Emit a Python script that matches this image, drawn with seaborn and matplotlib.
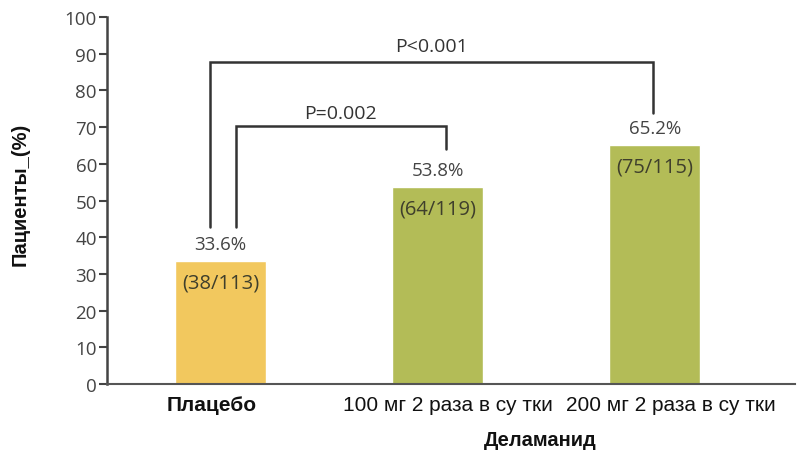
import matplotlib
matplotlib.use("Agg")
import matplotlib.pyplot as plt
import matplotlib.transforms as mtransforms
import seaborn as sns
import pandas as pd

categories = ["Плацебо", "100 мг 2 раза в су тки", "200 мг 2 раза в су тки"]
values = [33.6, 53.8, 65.2]
pct_labels = ["33.6%", "53.8%", "65.2%"]
count_labels = ["(38/113)", "(64/119)", "(75/115)"]
colors = ["#F2C85E", "#B3BC57", "#B3BC57"]
yticks = [0, 10, 20, 30, 40, 50, 60, 70, 80, 90, 100]

sns.set_style("white")
plt.rcParams['font.family'] = ['Liberation Sans', 'DejaVu Sans']

df = pd.DataFrame({"cat": categories, "val": values})

fig = plt.figure(figsize=(8.02, 4.52), dpi=100)
ax = fig.add_axes([0.133, 0.148, 0.858, 0.812])
sns.barplot(data=df, x="cat", y="val", hue="cat", palette=colors, width=0.42,
            legend=False, ax=ax, saturation=1)

ax.set_ylim(0, 100)
ax.set_xlim(-0.525, 2.645)
ax.set_yticks(yticks)
ax.set_yticklabels([str(t) for t in yticks], fontsize=13.5, color="#444444",
                   family=['Open Sans', 'DejaVu Sans'])
ax.tick_params(axis='y', direction='out', length=6, width=1.5, color="#444444", pad=1, left=True)
ax.tick_params(axis='x', length=0, pad=8)
shifts = [-9, 10, 16]
for lbl, w, dx in zip(ax.get_xticklabels(), ["bold", "normal", "normal"], shifts):
    lbl.set_fontweight(w)
    lbl.set_fontsize(15)
    lbl.set_color("#111111")
    lbl.set_transform(lbl.get_transform() + mtransforms.ScaledTranslation(dx / 100, 0, fig.dpi_scale_trans))

for s in ["top", "right"]:
    ax.spines[s].set_visible(False)
ax.spines["left"].set_color("#444444")
ax.spines["left"].set_linewidth(1.8)
ax.spines["bottom"].set_color("#555555")
ax.spines["bottom"].set_linewidth(1.5)

ax.set_ylabel("Пациенты_(%)", fontsize=14.5, fontweight="bold", color="#111111")
ax.yaxis.set_label_coords(-0.112, 0.52)
ax.set_xlabel("Деламанид", fontsize=14.5, fontweight="bold", color="#111111")
ax.xaxis.set_label_coords(0.63, -0.125)

ann_font = ['Open Sans', 'DejaVu Sans']
for i, (v, p, c) in enumerate(zip(values, pct_labels, count_labels)):
    ax.text(i, v + 4.6, p, ha="center", va="center", fontsize=13.5, color="#444444", family=ann_font)
    ax.text(i, v - 6.0, c, ha="center", va="center", fontsize=14.5, color="#3f3f2c", family=ann_font)

# significance brackets
lc = "#333333"
ax.plot([-0.05, -0.05, 1.99, 1.99], [42.8, 87.7, 87.7, 74.0], color=lc, lw=1.8, solid_joinstyle="miter")
ax.plot([0.07, 0.07, 1.037, 1.037], [42.8, 70.3, 70.3, 64.0], color=lc, lw=1.8, solid_joinstyle="miter")
ax.text(0.97, 92.0, "P<0.001", ha="center", va="center", fontsize=14, color="#333333", family=ann_font)
ax.text(0.55, 73.8, "P=0.002", ha="center", va="center", fontsize=14, color="#333333", family=ann_font)

fig.savefig("out.png", dpi=100)
